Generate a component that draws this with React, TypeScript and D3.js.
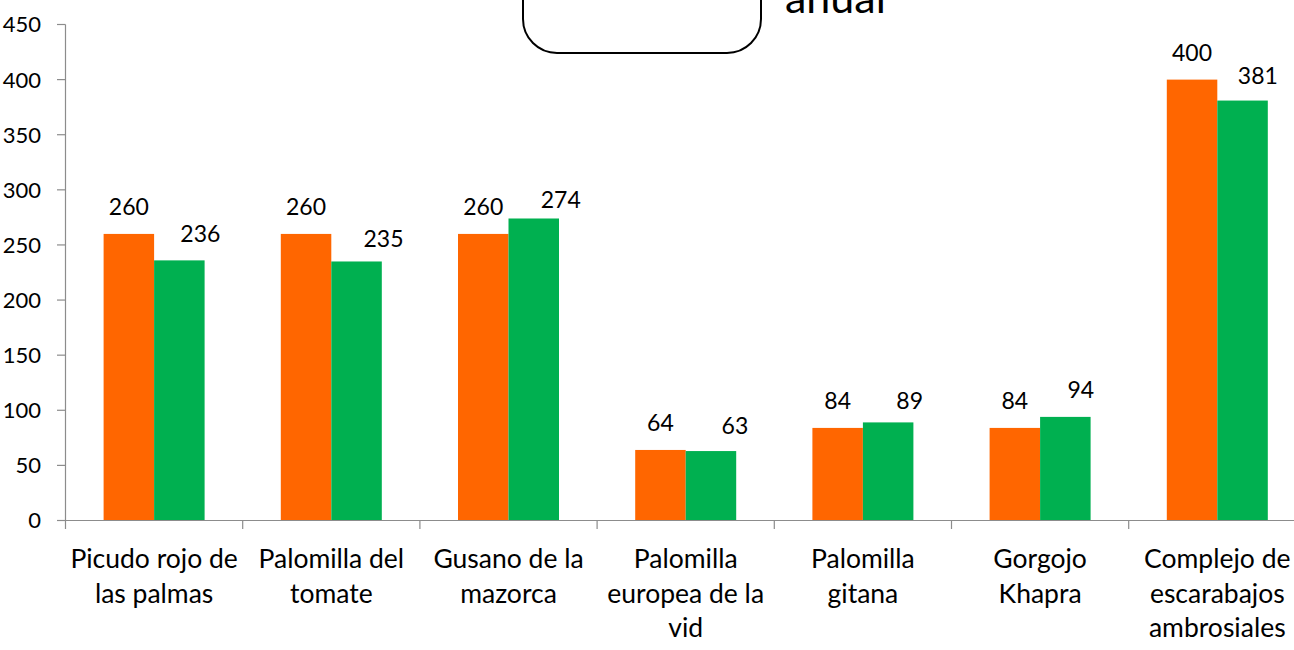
import React from "react";
import * as d3 from "d3";

const categories: string[][] = [
  ["Picudo rojo de", "las palmas"],
  ["Palomilla del", "tomate"],
  ["Gusano de la", "mazorca"],
  ["Palomilla", "europea de la", "vid"],
  ["Palomilla", "gitana"],
  ["Gorgojo", "Khapra"],
  ["Complejo de", "escarabajos", "ambrosiales"],
];
const seriesA: number[] = [260, 260, 260, 64, 84, 84, 400];
const seriesB: number[] = [236, 235, 274, 63, 89, 94, 381];
const yTicks: number[] = [0, 50, 100, 150, 200, 250, 300, 350, 400, 450];
const titleText = "anual";

// label placement tweaks (style, not data)
const labelDxB = [21, 27, 27, 24, 21.5, 15.4, 15.3];
const labelGapB = [18.3, 14, 10, 16.7, 13, 19, 16.7];
const labelGapA = 19;

const W = 1294;
const H = 650;
const X0 = 65.5;
const STEP = 177.2;
const COLORS = ["#FF6600", "#00B050"];
const AXIS = "#8C8C8C";
const FONT = "Lato, 'Open Sans', sans-serif";

export default function App() {
  const idx = categories.map((_, i) => String(i));
  const x = d3.scaleBand<string>().domain(idx).range([X0, X0 + STEP * categories.length]).padding(0);
  const y = d3.scaleLinear().domain([0, 450]).range([520.5, 24.5]);
  const barW = 50.5;
  const inner = d3.scaleBand<string>().domain(["a", "b"]).range([-barW, barW]).padding(0);

  const series = [seriesA, seriesB];

  return (
    <svg
      width={W}
      height={H}
      style={{ position: "absolute", left: 0, top: 0, background: "#fff" }}
      fontFamily={FONT}
    >
      <rect x={0} y={0} width={W} height={H} fill="#fff" />
      {/* title box & text */}
      <rect x={523} y={-80} width={238} height={133} rx={34} ry={34} fill="#fff" stroke="#000" strokeWidth={2} />
      <text x={785} y={13} fontSize={43} fill="#000">{titleText}</text>

      {/* bars */}
      {series.map((s, si) =>
        s.map((v, i) => {
          const cx = (x(String(i)) as number) + x.bandwidth() / 2;
          const bx = cx + (inner(si === 0 ? "a" : "b") as number);
          return (
            <rect
              key={`b${si}-${i}`}
              x={bx}
              y={y(v)}
              width={inner.bandwidth()}
              height={y(0) - y(v)}
              fill={COLORS[si]}
            />
          );
        })
      )}

      {/* y axis */}
      <line x1={X0} x2={X0} y1={y(450)} y2={529} stroke={AXIS} strokeWidth={1.2} />
      {yTicks.map((t) => (
        <g key={`yt${t}`}>
          <line x1={57} x2={X0} y1={y(t)} y2={y(t)} stroke={AXIS} strokeWidth={1.2} />
          <text x={41} y={y(t)} dy="0.36em" textAnchor="end" fontSize={22} fill="#000">
            {t}
          </text>
        </g>
      ))}

      {/* x axis */}
      <line x1={X0} x2={W} y1={y(0)} y2={y(0)} stroke={AXIS} strokeWidth={1.2} />
      {idx.map((k, i) =>
        i === 0 ? null : (
          <line
            key={`xt${i}`}
            x1={x(k) as number}
            x2={x(k) as number}
            y1={y(0)}
            y2={529}
            stroke={AXIS}
            strokeWidth={1.2}
          />
        )
      )}

      {/* category labels */}
      {categories.map((lines, i) => {
        const cx = (x(String(i)) as number) + x.bandwidth() / 2;
        return (
          <text key={`cl${i}`} textAnchor="middle" fontSize={26.5} fill="#000">
            {lines.map((ln, j) => (
              <tspan key={j} x={cx} y={568 + j * 34.5}>
                {ln}
              </tspan>
            ))}
          </text>
        );
      })}

      {/* value labels */}
      {series.map((s, si) =>
        s.map((v, i) => {
          const cx = (x(String(i)) as number) + x.bandwidth() / 2;
          const bc = cx + (inner(si === 0 ? "a" : "b") as number) + inner.bandwidth() / 2;
          const dx = si === 0 ? 0 : labelDxB[i];
          const gap = si === 0 ? labelGapA : labelGapB[i];
          return (
            <text
              key={`vl${si}-${i}`}
              x={bc + dx}
              y={y(v) - gap}
              textAnchor="middle"
              fontSize={23}
              fill="#000"
            >
              {v}
            </text>
          );
        })
      )}
    </svg>
  );
}
